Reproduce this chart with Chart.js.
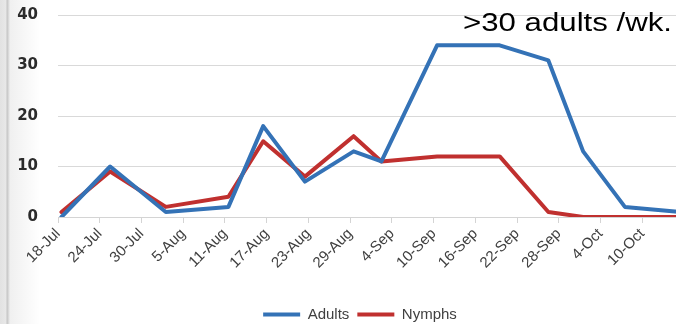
<!DOCTYPE html>
<html>
<head>
<meta charset="utf-8">
<script src="https://cdn.jsdelivr.net/npm/chart.js@4/dist/chart.umd.min.js"></script>
<style>
  html, body { margin: 0; padding: 0; background: #fff; overflow: hidden; }
  #wrap { position: relative; width: 676px; height: 324px; overflow: hidden; background: #fff; }
  #edge {
    position: absolute; left: 0; top: 0; width: 40px; height: 324px; z-index: 0; pointer-events: none;
    background: linear-gradient(to right, #e2e2e2 0px, #e8e8e8 6px, #c4c4c4 7px, #d2d2d2 8px, rgba(238,238,238,0.9) 10px, rgba(255,255,255,0) 40px);
  }
  canvas { position: absolute; left: 0; top: 0; z-index: 1; }
</style>
</head>
<body>
<div id="wrap">
  <div id="edge"></div>
  <canvas id="chart" width="720" height="324" style="width:720px;height:324px"></canvas>
</div>
<script>
// Weekly trap counts. Sample days are counted from 18 Jul.
const sampleDays = [0, 7, 15, 24, 29, 35, 42, 46, 54, 63, 70, 75, 81, 89];
const adults = [0, 10, 1, 2, 18, 7, 13, 11, 34, 34, 31, 13, 2, 1];
const nymphs = [1, 9, 2, 4, 15, 8, 16, 11, 12, 12, 1, 0, 0, 0];

// Date axis labels, one every 6 days starting 18 Jul.
const tickLabels = ['18-Jul', '24-Jul', '30-Jul', '5-Aug', '11-Aug', '17-Aug', '23-Aug', '29-Aug',
                    '4-Sep', '10-Sep', '16-Sep', '22-Sep', '28-Sep', '4-Oct', '10-Oct'];
const tickStepDays = 6;
const yTicks = [0, 10, 20, 30, 40];
const noteText = '>30 adults /wk.';

const BLUE = '#3472b6';
const RED = '#c0302f';

// Points sit in the middle of their day; ticks mark day boundaries.
const toPoints = (vals) => vals.map((v, i) => ({ x: sampleDays[i] + 0.5, y: v }));

const notePlugin = {
  id: 'note',
  afterDraw(chart) {
    const ctx = chart.ctx;
    ctx.save();
    ctx.font = '26px "Liberation Sans", Arial, sans-serif';
    ctx.fillStyle = '#000';
    ctx.textAlign = 'right';
    ctx.textBaseline = 'alphabetic';
    ctx.translate(672, 31);
    ctx.scale(1.2, 1);
    ctx.fillText(noteText, 0, 0);
    ctx.restore();
  }
};

// Centre the legend under the whole plot and drop it a little lower.
const legendShift = { dx: 18, dy: 8 };
const legendPlacePlugin = {
  id: 'legendPlace',
  afterLayout(chart) {
    const lg = chart.legend;
    if (!lg) return;
    lg.left += legendShift.dx;
    lg.right += legendShift.dx;
    lg.top += legendShift.dy;
    lg.bottom += legendShift.dy;
  }
};

// Keep the plot area fixed: the scales do not ask for extra edge room.
const noEdgePadding = (scale) => {
  scale.paddingTop = 0;
  scale.paddingBottom = 0;
  scale.paddingLeft = 0;
  scale.paddingRight = 0;
};

new Chart(document.getElementById('chart'), {
  type: 'line',
  data: {
    datasets: [
      {
        label: 'Adults', data: toPoints(adults),
        borderColor: BLUE, backgroundColor: BLUE, borderWidth: 4,
        pointRadius: 0, tension: 0, borderJoinStyle: 'round', borderCapStyle: 'round'
      },
      {
        label: 'Nymphs', data: toPoints(nymphs),
        borderColor: RED, backgroundColor: RED, borderWidth: 4,
        pointRadius: 0, tension: 0, borderJoinStyle: 'round', borderCapStyle: 'round'
      }
    ]
  },
  options: {
    responsive: false,
    animation: false,
    devicePixelRatio: 1,
    layout: { padding: { top: 15, right: 36, left: 0, bottom: 0 } },
    plugins: {
      tooltip: { enabled: false },
      legend: {
        position: 'bottom',
        labels: {
          usePointStyle: true,
          pointStyle: 'line',
          pointStyleWidth: 37,
          padding: 8,
          color: '#404040',
          font: { family: '"Liberation Sans", Arial, sans-serif', size: 15 }
        }
      }
    },
    scales: {
      x: {
        type: 'linear',
        min: 0,
        max: 90,
        afterBuildTicks(scale) {
          scale.ticks = tickLabels.map((_, i) => ({ value: i * tickStepDays }));
        },
        afterFit(scale) { scale.height = 74; noEdgePadding(scale); },
        ticks: {
          autoSkip: false,
          maxRotation: 45,
          minRotation: 45,
          padding: 2,
          color: '#404040',
          font: { family: '"Liberation Sans", Arial, sans-serif', size: 15 },
          callback: (value, index) => tickLabels[index]
        },
        grid: { drawOnChartArea: false, drawTicks: true, tickLength: 6, color: '#d4d4d4' },
        border: { display: true, color: '#d4d4d4', width: 1 }
      },
      y: {
        min: 0,
        max: 40,
        afterBuildTicks(scale) {
          scale.ticks = yTicks.map(v => ({ value: v }));
        },
        afterFit(scale) { scale.width = 58; noEdgePadding(scale); },
        ticks: {
          padding: 20,
          color: '#2b2b2b',
          font: { family: '"DejaVu Sans", sans-serif', size: 15, weight: 'bold' }
        },
        grid: { drawTicks: false, color: '#d9d9d9', lineWidth: 1 },
        border: { display: false }
      }
    }
  },
  plugins: [notePlugin, legendPlacePlugin]
});
</script>
</body>
</html>
